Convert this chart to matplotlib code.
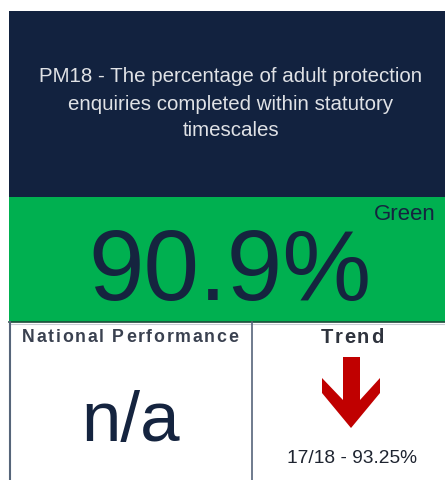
import matplotlib
matplotlib.use("Agg")
import matplotlib.pyplot as plt
from matplotlib.patches import Rectangle, Polygon
from matplotlib.font_manager import FontProperties
from matplotlib.textpath import TextToPath

# KPI card content
title_lines = ["PM18 - The percentage of adult protection",
               "enquiries completed within statutory",
               "timescales"]
kpi_value = 90.9
rag_status = "Green"
national_label = "National Performance"
national_value = "n/a"
trend_label = "Trend"
trend_period = "17/18"
trend_value = 93.25

navy = "#12223f"
green = "#00b050"
ink = "#15243f"
red = "#c00000"
border = "#56657a"

plt.rcParams['font.family'] = ['Liberation Sans', 'DejaVu Sans']

fig = plt.figure(figsize=(4.45, 4.80), dpi=100)
ax = fig.add_axes([0, 0, 1, 1])
ax.set_xlim(0, 445)
ax.set_ylim(480, 0)
ax.axis("off")

t2p = TextToPath()


def spaced_text(x, y, s, size, spacing, **kw):
    # letter-spaced text, centred on x (axes units == pixels here)
    prop = FontProperties(family="Liberation Sans", weight=kw.get("fontweight", "normal"), size=size)
    widths = [t2p.get_text_width_height_descent(c, prop, ismath=False)[0] * 100 / 72 for c in s]
    total = sum(widths) + spacing * (len(s) - 1)
    cx = x - total / 2
    for c, w in zip(s, widths):
        ax.text(cx, y, c, fontsize=size, ha="left", va="baseline", **kw)
        cx += w + spacing


# panels
ax.add_patch(Rectangle((9, 11), 440, 186, facecolor=navy, edgecolor="none"))
ax.add_patch(Rectangle((9, 197), 440, 125, facecolor=green, edgecolor="none"))
ax.plot([9, 445], [322, 322], color="#1d4a3a", lw=1.2)
ax.plot([9, 445], [323.5, 323.5], color="#c8ccd4", lw=0.8)
ax.plot([10, 10], [322, 480], color=border, lw=1.5)
ax.plot([252, 252], [322, 480], color=border, lw=1.2)

# title
for i, line in enumerate(title_lines):
    ax.text(231, 77 + 27 * i, line, color="#e0e2e6", fontsize=14.8,
            ha="center", va="center")

# main value
ax.text(230, 300, f"{kpi_value}%", color=ink, fontsize=72, ha="center", va="baseline")
ax.text(436, 215, rag_status, color=ink, fontsize=16, ha="right", va="center")

# national performance
spaced_text(130, 342, national_label, 12.8, 1.7, color="#3a4150", fontweight="bold")
ax.text(131, 441, national_value, color=ink, fontsize=51, ha="center", va="baseline")

# trend
spaced_text(352, 343, trend_label, 14.5, 1.6, color="#2e333d", fontweight="bold")
arrow = [(343, 357), (360, 357), (360, 400), (380, 378), (380, 393), (351, 428),
         (322, 393), (322, 378), (343, 400)]
ax.add_patch(Polygon(arrow, closed=True, facecolor=red, edgecolor="none"))
ax.text(352, 463, f"{trend_period} - {trend_value}%", color="#1e2430", fontsize=13.8,
        ha="center", va="baseline")

fig.savefig("out.png", dpi=100, facecolor="white")
